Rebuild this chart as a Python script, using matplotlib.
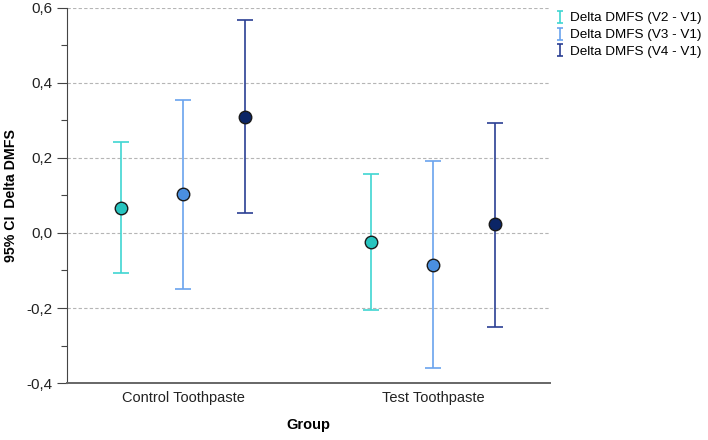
import numpy as np
import matplotlib.pyplot as plt
from matplotlib.lines import Line2D
from matplotlib.path import Path
from matplotlib.ticker import FuncFormatter, MultipleLocator

plt.rcParams['font.family'] = ['Liberation Sans', 'DejaVu Sans']

groups = ["Control Toothpaste", "Test Toothpaste"]
series = ["Delta DMFS (V2 - V1)", "Delta DMFS (V3 - V1)", "Delta DMFS (V4 - V1)"]
means = [[0.067, -0.024], [0.104, -0.085], [0.309, 0.024]]
lower = [[-0.107, -0.205], [-0.149, -0.360], [0.053, -0.250]]
upper = [[0.243, 0.157], [0.355, 0.192], [0.568, 0.293]]

line_colors = ["#3fd6d2", "#6aa3ee", "#2b3f93"]
marker_colors = ["#27c4bf", "#4a8fe0", "#0b2566"]

fig = plt.figure(figsize=(7.08, 4.4), dpi=100)
ax = fig.add_axes([0.0946, 0.1295, 0.682, 0.8525])

x = np.arange(len(groups))
offsets = [-0.248, 0.0, 0.248]

for i, name in enumerate(series):
    m = np.array(means[i])
    lo = m - np.array(lower[i])
    hi = np.array(upper[i]) - m
    ax.errorbar(x + offsets[i], m, yerr=[lo, hi], fmt='none',
                ecolor=line_colors[i], elinewidth=1.2, capsize=6,
                capthick=1.2, zorder=3)
    ax.plot(x + offsets[i], m, 'o', ms=9, mfc=marker_colors[i],
            mec='#1a1a1a', mew=1.0, zorder=4)

ax.set_xlim(-0.464, 1.468)
ax.set_ylim(-0.4, 0.6)
ax.yaxis.set_major_locator(MultipleLocator(0.2))
ax.yaxis.set_minor_locator(MultipleLocator(0.1))
ax.yaxis.set_major_formatter(FuncFormatter(lambda v, p: f"{v:.1f}".replace('.', ',')))
ax.grid(axis='y', which='major', linestyle=(0, (3, 2)), color='#b5b5b5', lw=0.8)
ax.set_axisbelow(True)

ax.set_xticks(x)
ax.set_xticklabels(groups, fontsize=10.5, color='#222222')
ax.tick_params(axis='x', length=0, pad=6)
ax.tick_params(axis='y', which='major', length=7, width=0.8, color='#444444',
               labelsize=11, labelcolor='#222222')
ax.tick_params(axis='y', which='minor', length=4, width=0.8, color='#444444')

for s in ['top', 'right']:
    ax.spines[s].set_visible(False)
ax.spines['left'].set_color('#444444')
ax.spines['bottom'].set_color('#666666')
ax.spines['bottom'].set_linewidth(1.4)

ax.set_xlabel("Group", fontsize=10.5, fontweight='bold', labelpad=9)
ax.set_ylabel("95% CI  Delta DMFS", fontsize=10.2, fontweight='bold')
ax.yaxis.set_label_coords(-0.101, 0.5)

ibeam = Path([(-0.5, 1), (0.5, 1), (0, 1), (0, -1), (-0.5, -1), (0.5, -1)],
             [Path.MOVETO, Path.LINETO, Path.MOVETO, Path.LINETO, Path.MOVETO, Path.LINETO])
handles = [Line2D([], [], marker=ibeam, linestyle='none', markersize=9,
                  markeredgecolor=c, markerfacecolor='none', markeredgewidth=1.2)
           for c in line_colors]
fig.legend(handles, series, loc='upper left', bbox_to_anchor=(0.776, 0.985),
           frameon=False, fontsize=9.7, handlelength=0.7, handletextpad=0.4,
           labelspacing=0.33, borderaxespad=0)

fig.savefig("out.png", dpi=100)
